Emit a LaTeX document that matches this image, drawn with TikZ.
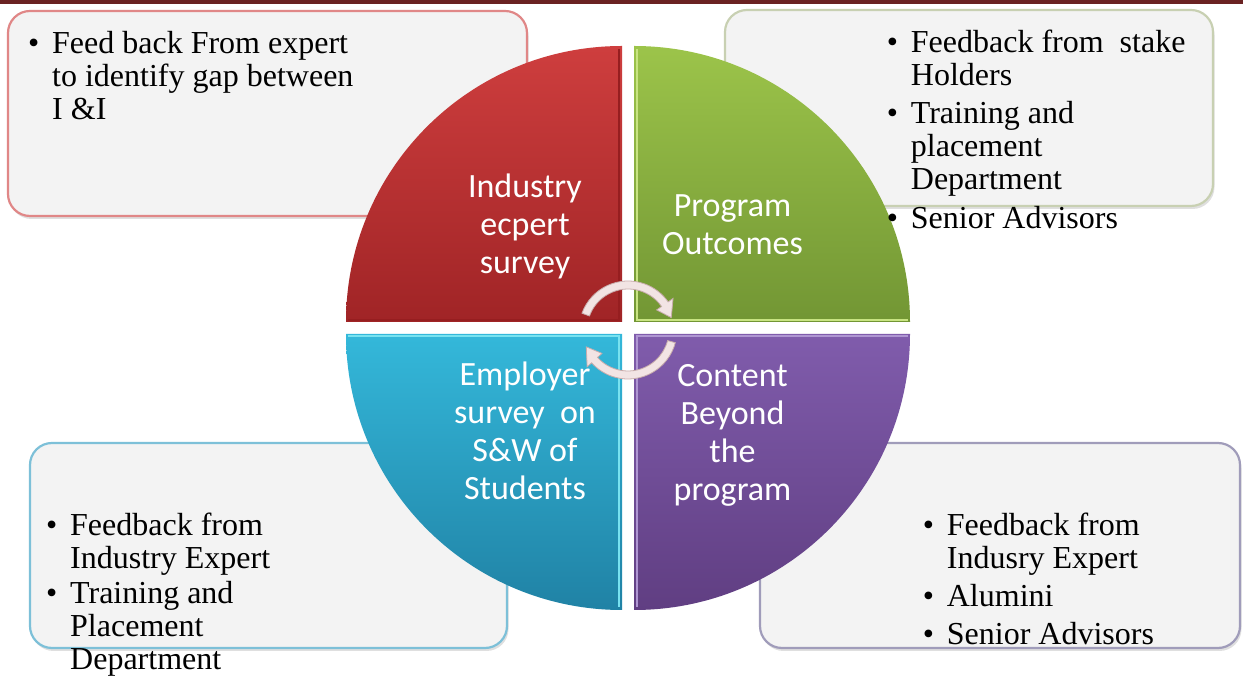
\documentclass[tikz,border=0pt]{standalone}
\usepackage{fontspec}
\setmainfont{Liberation Serif}
\newfontfamily\calibri{Carlito}
\usetikzlibrary{calc,shadows}
\definecolor{barred}{RGB}{106,34,34}
\definecolor{boxfill}{RGB}{243,243,243}
\definecolor{bdred}{RGB}{224,135,135}
\definecolor{bdgreen}{RGB}{200,208,178}
\definecolor{bdblue}{RGB}{125,192,216}
\definecolor{bdpurple}{RGB}{160,156,186}
\definecolor{redtop}{RGB}{206,62,62}
\definecolor{redbot}{RGB}{160,36,38}
\definecolor{greentop}{RGB}{156,196,74}
\definecolor{greenbot}{RGB}{114,150,52}
\definecolor{bluetop}{RGB}{52,184,218}
\definecolor{bluebot}{RGB}{32,130,165}
\definecolor{purptop}{RGB}{128,92,172}
\definecolor{purpbot}{RGB}{96,62,130}
\definecolor{redhi}{RGB}{150,30,32}
\definecolor{greenhi}{RGB}{200,228,130}
\definecolor{bluehi}{RGB}{120,226,240}
\definecolor{purphi}{RGB}{175,150,210}
\definecolor{arrfill}{RGB}{242,228,228}
\definecolor{arredge}{RGB}{200,172,172}
\newcommand{\mybul}{\makebox[24pt][l]{\textbullet}}
\begin{document}
\begin{tikzpicture}[x=1pt,y=1pt,
  infobox/.style={rounded corners=22pt, fill=boxfill, line width=2.2pt,
    drop shadow={opacity=0.25,shadow xshift=1.5pt,shadow yshift=-3pt}},
  boxtext/.style={anchor=base west, inner sep=0pt, font=\fontsize{32}{33}\selectfont},
  quadtext/.style={anchor=base, inner sep=0pt, text=white, font=\calibri\fontsize{34}{38}\selectfont},
  arrowshape/.style={fill=arrfill, draw=arredge, line width=0.8pt},
  bevel/.style={line width=2.5pt}
]
\useasboundingbox (0,0) rectangle (1243,677);
\fill[white] (0,0) rectangle (1243,677);
% top bar
\fill[barred] (0,673) rectangle (1243,677);

% information boxes
\draw[infobox, draw=bdred] (8,461) rectangle (527,666);
\draw[infobox, draw=bdgreen] (725,471) rectangle (1213,667);
\draw[infobox, draw=bdblue] (30,29) rectangle (507,234);
\draw[infobox, draw=bdpurple] (760,29) rectangle (1240,234);

% quadrants
\shade[top color=redtop, bottom color=redbot]
  (622,355) -- (346,355) arc[start angle=180, end angle=90, radius=276] -- cycle;
\shade[top color=greentop, bottom color=greenbot]
  (634,355) -- (634,631) arc[start angle=90, end angle=0, radius=276] -- cycle;
\shade[top color=bluetop, bottom color=bluebot]
  (622,343) -- (622,67) arc[start angle=270, end angle=180, radius=276] -- cycle;
\shade[top color=purptop, bottom color=purpbot]
  (634,343) -- (910,343) arc[start angle=0, end angle=-90, radius=276] -- cycle;

% bevel highlights on inner edges
\draw[bevel, redhi] (348,357) -- (619,357) -- (619,628);
\draw[bevel, greenhi] (637,628) -- (637,357) -- (908,357);
\draw[bevel, bluehi] (348,341) -- (619,341) -- (619,70);
\draw[bevel, purphi] (637,70) -- (637,341) -- (908,341);

% quadrant labels
\node[quadtext] (q1) at (525,479) {\begin{tabular}[t]{@{}c@{}}Industry\\ecpert\\survey\end{tabular}};
\node[quadtext] (q2) at (732.5,460) {\begin{tabular}[t]{@{}c@{}}Program\\Outcomes\end{tabular}};
\node[quadtext] (q3) at (525,291.5) {\begin{tabular}[t]{@{}c@{}}Employer\\survey\ \ on\\S\&W of\\Students\end{tabular}};
\node[quadtext] (q4) at (732.5,290.5) {\begin{tabular}[t]{@{}c@{}}Content\\Beyond\\the\\program\end{tabular}};

% cycle arrows
\coordinate (c) at (628,347);
\filldraw[arrowshape] ($(c)+(160:49pt)$) arc[start angle=160, end angle=35, radius=49pt]
  -- ($(c)+(35:55pt)$) -- ($(c)+(16:45pt)$) -- ($(c)+(35:35pt)$)
  -- ($(c)+(35:41pt)$) arc[start angle=35, end angle=160, radius=41pt] -- cycle;
\filldraw[arrowshape] ($(c)+(-15:49pt)$) arc[start angle=-15, end angle=-138, radius=49pt]
  -- ($(c)+(-138:55pt)$) -- ($(c)+(-158:45pt)$) -- ($(c)+(-138:35pt)$)
  -- ($(c)+(-138:41pt)$) arc[start angle=-138, end angle=-15, radius=41pt] -- cycle;

% box texts
\node[boxtext] (t1) at (28,623.5) {\begin{tabular}[t]{@{}l@{}l@{}}
\mybul & Feed back From expert\\
 & to identify gap between\\
 & I \&I
\end{tabular}};
\node[boxtext] (t2) at (886.7,624) {\begin{tabular}[t]{@{}l@{}l@{}}
\mybul & Feedback from\ \ stake\\
 & Holders\\[5pt]
\mybul & Training and\\
 & placement\\
 & Department\\[6pt]
\mybul & Senior Advisors
\end{tabular}};
\node[boxtext] (t3) at (46,141) {\begin{tabular}[t]{@{}l@{}l@{}}
\mybul & Feedback from\\
 & Industry Expert\\[2pt]
\mybul & Training and\\
 & Placement\\
 & Department
\end{tabular}};
\node[boxtext] (t4) at (922.7,141) {\begin{tabular}[t]{@{}l@{}l@{}}
\mybul & Feedback from\\
 & Indusry Expert\\[5pt]
\mybul & Alumini\\[5pt]
\mybul & Senior Advisors
\end{tabular}};
\end{tikzpicture}
\end{document}
